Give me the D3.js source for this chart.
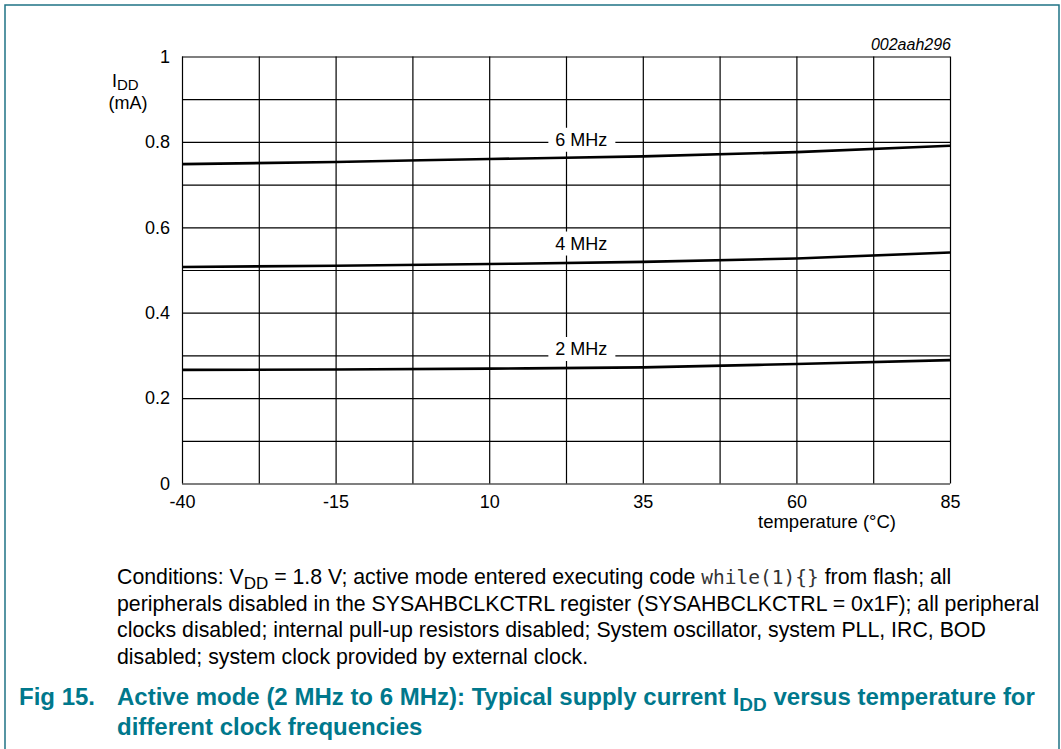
<!DOCTYPE html>
<html>
<head>
<meta charset="utf-8">
<script src="https://cdn.jsdelivr.net/npm/d3@7"></script>
<style>
  body { margin: 0; background: #fff; }
  svg { display: block; font-family: "Liberation Sans", Arial, sans-serif; }
  .grid line { stroke: #000; stroke-width: 1.2; }
  .grid path { display: none; }
  .axis path, .axis line { display: none; }
  .axis text { font-size: 18px; fill: #000; }
</style>
</head>
<body>
<div id="chart"></div>
<script>
// temperature (°C) at which the curves were read
var temps = [-40, -15, 10, 35, 60, 85];

// IDD (mA) for each clock frequency
var idd6 = [0.748, 0.753, 0.760, 0.766, 0.776, 0.791];
var idd4 = [0.507, 0.510, 0.514, 0.519, 0.527, 0.541];
var idd2 = [0.266, 0.267, 0.269, 0.272, 0.280, 0.289];

var seriesNames = ['6 MHz', '4 MHz', '2 MHz'];
var seriesValues = [idd6, idd4, idd2];
// where the frequency labels sit (temperature, IDD)
var labelTemp = [25, 25, 25];
var labelIdd = [0.805, 0.562, 0.315];

var xTicks = [-40, -15, 10, 35, 60, 85];
var yTicks = [0, 0.2, 0.4, 0.6, 0.8, 1];

var W = 1061, H = 749;
var plot = { left: 182, top: 56.5, width: 768, height: 427 };
var teal = '#00788c';

var svg = d3.select('#chart').append('svg')
  .attr('width', W)
  .attr('height', H);

// page frame
svg.append('path')
  .attr('d', 'M5,' + H + 'V5H1059V' + H)
  .attr('fill', 'none')
  .attr('stroke', '#1f7385')
  .attr('stroke-width', 1.5);

var x = d3.scaleLinear().domain([-40, 85]).range([0, plot.width]);
var y = d3.scaleLinear().domain([0, 1]).range([plot.height, 0]);

var g = svg.append('g')
  .attr('transform', 'translate(' + plot.left + ',' + plot.top + ')');

// grid: every 12.5 °C and every 0.1 mA
g.append('g')
  .attr('class', 'grid')
  .attr('transform', 'translate(0,' + plot.height + ')')
  .call(d3.axisBottom(x).tickValues(d3.range(-40, 85.1, 12.5)).tickSize(-plot.height).tickFormat(''));

g.append('g')
  .attr('class', 'grid')
  .call(d3.axisLeft(y).tickValues(d3.range(0, 11).map(function (i) { return i / 10; })).tickSize(-plot.width).tickFormat(''));

// axis labels (plain hyphen for negatives, like the datasheet)
g.append('g')
  .attr('class', 'axis')
  .attr('transform', 'translate(0,' + plot.height + ')')
  .call(d3.axisBottom(x).tickValues(xTicks).tickSize(0).tickPadding(12)
    .tickFormat(function (d) { return String(d); }));

g.append('g')
  .attr('class', 'axis')
  .call(d3.axisLeft(y).tickValues(yTicks).tickSize(0).tickPadding(12)
    .tickFormat(function (d) { return String(+d.toFixed(1)); }));

// curves
var line = d3.line()
  .x(function (d, i) { return x(temps[i]); })
  .y(function (d) { return y(d); })
  .curve(d3.curveMonotoneX);

g.selectAll('.curve')
  .data(seriesValues)
  .enter().append('path')
  .attr('class', 'curve')
  .attr('d', line)
  .attr('fill', 'none')
  .attr('stroke', '#000')
  .attr('stroke-width', 2.6);

// frequency labels with white box over the grid
var lab = g.selectAll('.flabel')
  .data(seriesNames)
  .enter().append('g')
  .attr('class', 'flabel')
  .attr('transform', function (d, i) { return 'translate(' + x(labelTemp[i]) + ',' + y(labelIdd[i]) + ')'; });

lab.append('rect')
  .attr('x', -33).attr('y', -12).attr('width', 67).attr('height', 24)
  .attr('fill', '#fff');

lab.append('text')
  .attr('text-anchor', 'middle')
  .attr('dy', '0.35em')
  .style('font-size', '18px')
  .text(function (d) { return d; });

// y axis title
var yt = svg.append('text')
  .attr('x', 112).attr('y', 87)
  .style('font-size', '18px');
yt.append('tspan').text('I');
yt.append('tspan').attr('dy', 3).style('font-size', '15px').text('DD');
svg.append('text')
  .attr('x', 128).attr('y', 109)
  .attr('text-anchor', 'middle')
  .style('font-size', '18px')
  .text('(mA)');

// x axis title
svg.append('text')
  .attr('x', 827).attr('y', 528)
  .attr('text-anchor', 'middle')
  .style('font-size', '18.5px')
  .text('temperature (°C)');

// figure code
svg.append('text')
  .attr('x', plot.left + plot.width + 1).attr('y', 50)
  .attr('text-anchor', 'end')
  .style('font-size', '16px')
  .style('font-style', 'italic')
  .text('002aah296');

// conditions note
var note = svg.append('g').style('font-size', '21.3px');
var l1 = note.append('text').attr('x', 117).attr('y', 584);
l1.append('tspan').text('Conditions: V');
l1.append('tspan').attr('dy', 5).style('font-size', '17px').text('DD');
l1.append('tspan').attr('dy', -5).text(' = 1.8 V; active mode entered executing code ');
l1.append('tspan').style('font-family', '"DejaVu Sans Mono", monospace').style('font-size', '19.5px')
  .style('fill', '#333').text('while(1){}');
l1.append('tspan').text(' from flash; all');

var noteLines = [
  'peripherals disabled in the SYSAHBCLKCTRL register (SYSAHBCLKCTRL = 0x1F); all peripheral',
  'clocks disabled; internal pull-up resistors disabled; System oscillator, system PLL, IRC, BOD',
  'disabled; system clock provided by external clock.'
];
note.selectAll('.nl')
  .data(noteLines)
  .enter().append('text')
  .attr('class', 'nl')
  .attr('x', 117)
  .attr('y', function (d, i) { return 584 + 26.7 * (i + 1); })
  .text(function (d) { return d; });

// caption
var cap = svg.append('g')
  .style('font-size', '24px')
  .style('font-weight', 'bold')
  .style('fill', teal);
cap.append('text').attr('x', 19).attr('y', 705).text('Fig 15.');
var c1 = cap.append('text').attr('x', 117).attr('y', 705);
c1.append('tspan').text('Active mode (2 MHz to 6 MHz): Typical supply current I');
c1.append('tspan').attr('dy', 6).style('font-size', '19px').text('DD');
c1.append('tspan').attr('dy', -6).text(' versus temperature for');
cap.append('text').attr('x', 117).attr('y', 735).text('different clock frequencies');
</script>
</body>
</html>
